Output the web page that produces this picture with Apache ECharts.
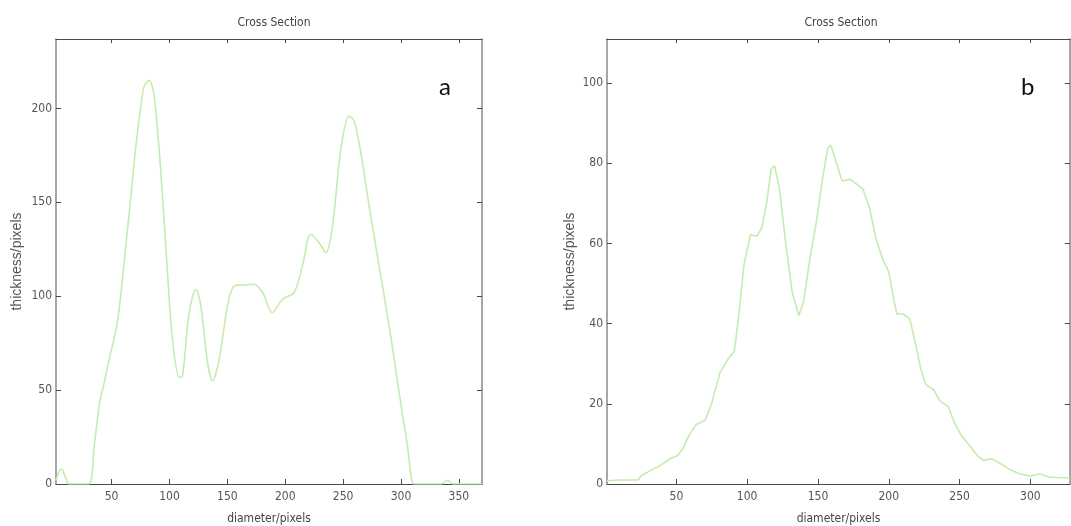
<!DOCTYPE html>
<html>
<head>
<meta charset="utf-8">
<script src="https://cdn.jsdelivr.net/npm/echarts@6/dist/echarts.min.js"></script>
<style>
html,body{margin:0;padding:0;background:#fff;}
#c{width:1071px;height:526px;}
</style>
</head>
<body>
<div id="c"></div>
<script>
// ---- Data: panel a ----
const xA = [2,5,7,10,13,20,30.5,35,39.3,44,48,55,62.3,67,71,75,78.2,82.5,86.8,92.6,98.3,102.6,108.4,111.3,117,122.8,127.1,132.9,137.2,143,150.2,155.9,163.1,173,180.4,189,197.6,207.7,214.9,222.1,229.3,235.1,240.9,248,255.2,259.5,265.3,272.5,281.1,289.8,298.4,305.6,311.4,320,335,340,345,370];
const yA = [2,7,8,4,0,0,0,20,41.7,55,66.5,86,126.8,155,180,200,211.9,215,206.6,165.8,112.6,77,56.7,57.6,91.3,103.7,95,64.7,55,66.5,95,105.5,106,106.4,102,91.3,98.4,102,116.2,133,128.5,123.2,137.4,178.2,195.9,193.3,176.5,148,116.2,84.2,48.8,20.4,0,0,0,2,0,0];
// ---- Data: panel b ----
const xB = [1,10,23,25,31.8,38.6,45.5,51,54.5,59,63.6,70.5,75,80.7,86.4,91,94.3,97.7,102.3,106.8,110.2,113.6,117,119.3,122.7,127.3,131.8,136.4,139.8,144.3,148.9,153.4,156.8,159.1,162.5,167,172.7,177.3,181.8,186.4,190.9,195.5,200,203.4,205.7,210.2,214.8,218.2,222.7,226.1,231.8,236.4,242,246.6,251,256.8,262.5,267,272.7,279.5,286.4,293,300,306.8,313.6,328];
const yB = [0.8,1,1,2,3.4,4.6,6.3,7.1,8.8,12.2,14.7,16,20.2,27.7,31.1,33.2,42.9,54.6,62.2,61.8,63.9,69.7,78.6,79.4,74,59.7,47.9,42,45.4,56.3,65.5,76.5,83.6,84.5,80.7,75.6,76,74.8,73.5,68.9,61.3,56.3,52.9,46.2,42.4,42.4,41.2,36.1,28.6,24.8,23.5,20.6,19.3,15.1,12.2,9.7,7.1,5.9,6.3,5,3.4,2.5,2,2.5,1.7,1.5];
// ---- Tick labels ----
const xTicksA = [50,100,150,200,250,300,350];
const yTicksA = [0,50,100,150,200];
const xTicksB = [50,100,150,200,250,300];
const yTicksB = [0,20,40,60,80,100];

const titleText = 'Cross Section';
const xName = 'diameter/pixels';
const yName = 'thickness/pixels';

const narrow = "'Liberation Sans Narrow','DejaVu Sans Condensed',sans-serif";
const axisCol = '#4a4a4a';
const lineCol = '#c4ecae';

const chart = echarts.init(document.getElementById('c'));

function pairs(xs, ys){ return xs.map((x,i)=>[x, ys[i]]); }

function xAxes(gi, min, max, ticks){
  return [
    {gridIndex:gi, type:'value', min:min, max:max, position:'bottom',
     name:xName, nameLocation:'middle', nameGap:29,
     nameTextStyle:{fontFamily:narrow, fontSize:12, color:'#444'},
     axisLine:{show:true, onZero:false, lineStyle:{color:axisCol, width:1.2}},
     axisTick:{show:true, inside:true, length:5, customValues:ticks, lineStyle:{color:axisCol}},
     axisLabel:{show:true, margin:7, customValues:ticks, fontFamily:narrow, fontSize:12, color:'#555'},
     splitLine:{show:false}},
    {gridIndex:gi, type:'value', min:min, max:max, position:'top',
     axisLine:{show:true, onZero:false, lineStyle:{color:axisCol, width:1.2}},
     axisTick:{show:true, inside:true, length:4, customValues:ticks, lineStyle:{color:axisCol}},
     axisLabel:{show:false}, splitLine:{show:false}}
  ];
}
function yAxes(gi, min, max, ticks, gap){
  return [
    {gridIndex:gi, type:'value', min:min, max:max, position:'left',
     name:yName, nameLocation:'middle', nameGap:gap, nameRotate:90,
     nameTextStyle:{fontFamily:"'Liberation Sans',Arial,sans-serif", fontSize:14, color:'#555'},
     axisLine:{show:true, onZero:false, lineStyle:{color:'#8a8a8a', width:1.5}},
     axisTick:{show:true, inside:true, length:5, customValues:ticks, lineStyle:{color:axisCol}},
     axisLabel:{show:true, margin:4, customValues:ticks, fontFamily:narrow, fontSize:12, color:'#555'},
     splitLine:{show:false}},
    {gridIndex:gi, type:'value', min:min, max:max, position:'right',
     axisLine:{show:true, onZero:false, lineStyle:{color:'#8a8a8a', width:1.5}},
     axisTick:{show:true, inside:true, length:5, customValues:ticks, lineStyle:{color:axisCol}},
     axisLabel:{show:false}, splitLine:{show:false}}
  ];
}

chart.setOption({
  backgroundColor:'#fff',
  animation:false,
  title:[
    {text:titleText, left:269, top:12, textAlign:'center',
     textStyle:{fontFamily:narrow, fontSize:12, fontWeight:'normal', color:'#444'}},
    {text:titleText, left:836, top:12, textAlign:'center',
     textStyle:{fontFamily:narrow, fontSize:12, fontWeight:'normal', color:'#444'}},
    {text:'a', left:434, top:70,
     textStyle:{fontFamily:"Lato,'Open Sans',sans-serif", fontSize:24, fontWeight:'normal', color:'#111'}},
    {text:'b', left:1016, top:70,
     textStyle:{fontFamily:"Lato,'Open Sans',sans-serif", fontSize:24, fontWeight:'normal', color:'#111'}}
  ],
  grid:[
    {left:56, top:39, width:426, height:445, outerBoundsMode:'none', containLabel:false},
    {left:607, top:39, width:463, height:445, outerBoundsMode:'none', containLabel:false}
  ],
  xAxis:[...xAxes(0, 2, 370, xTicksA), ...xAxes(1, 1, 328, xTicksB)],
  yAxis:[...yAxes(0, 0, 237, yTicksA, 32), ...yAxes(1, 0, 111, yTicksB, 30)],
  series:[
    {type:'line', xAxisIndex:0, yAxisIndex:0, data:pairs(xA,yA), showSymbol:false,
     smooth:0.3, lineStyle:{color:lineCol, width:1.6}},
    {type:'line', xAxisIndex:2, yAxisIndex:2, data:pairs(xB,yB), showSymbol:false,
     smooth:false, lineStyle:{color:lineCol, width:1.6}}
  ]
});
</script>
</body>
</html>
